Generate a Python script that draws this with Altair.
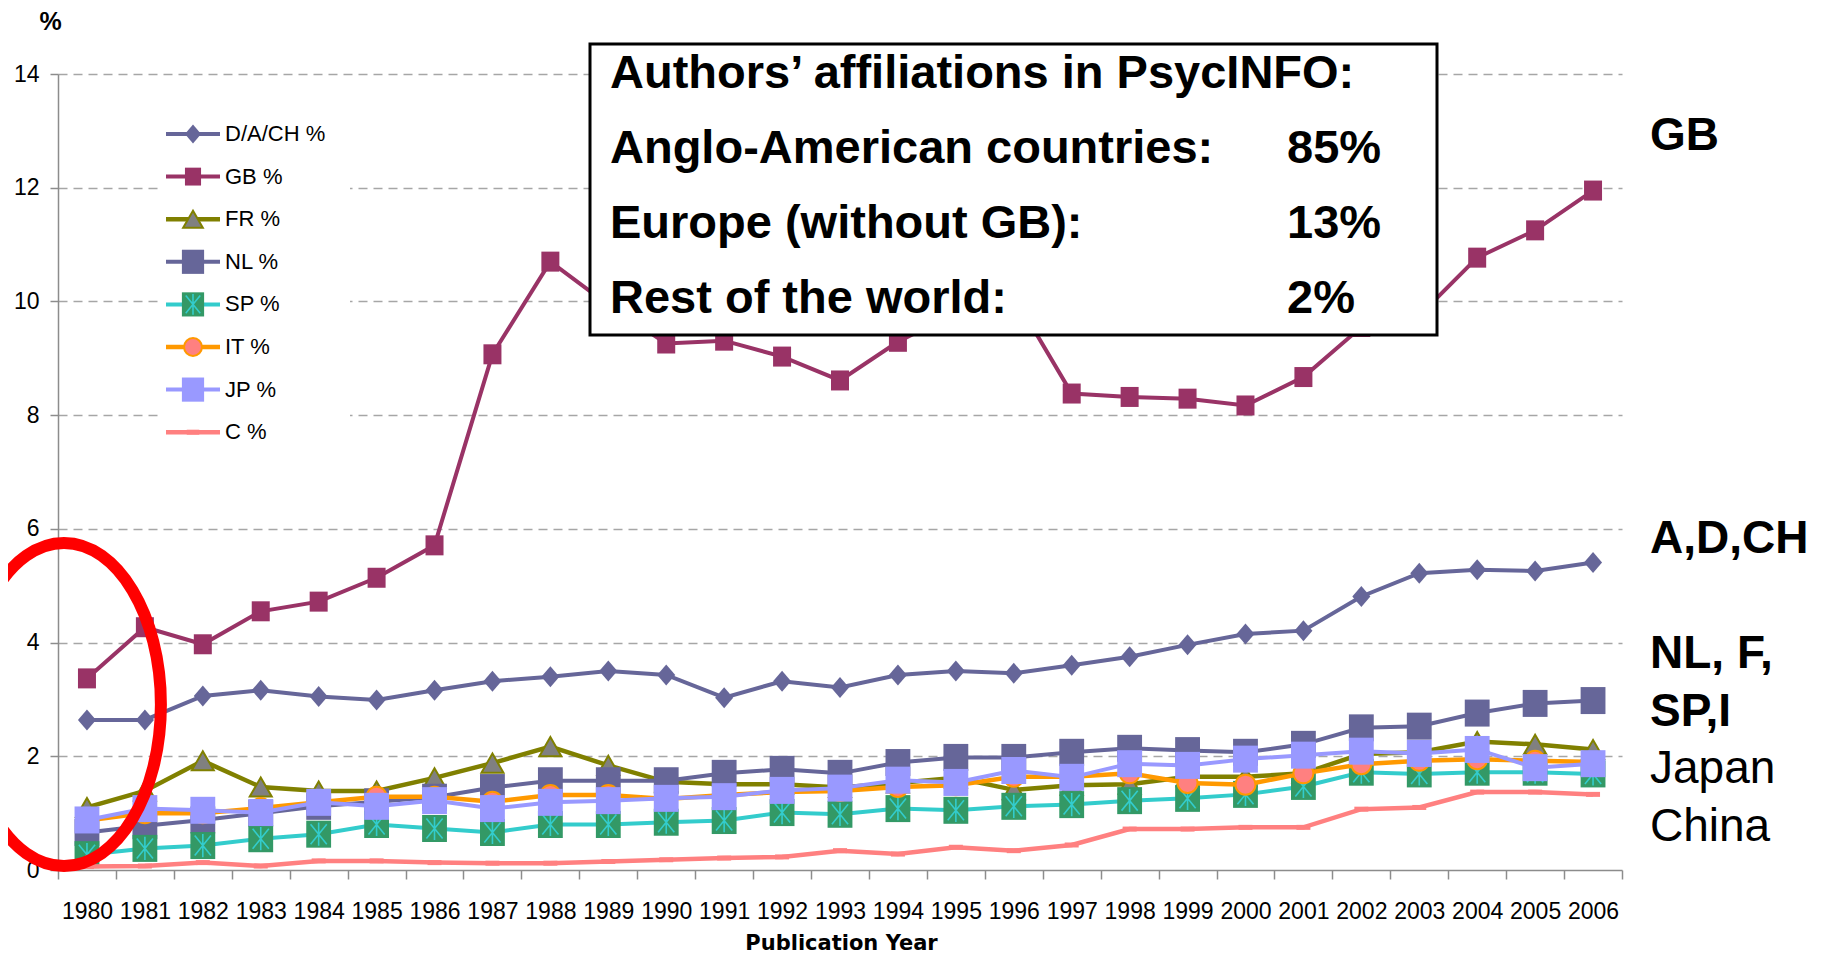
import altair as alt
import pandas as pd

# ---------------- data ----------------
years = list(range(1980, 2007))
series_names = ["D/A/CH %", "GB %", "FR %", "NL %", "SP %", "IT %", "JP %", "C %"]

dach = [2.64, 2.64, 3.06, 3.16, 3.05, 2.99, 3.16, 3.32, 3.40, 3.50, 3.43, 3.03, 3.32, 3.21,
        3.43, 3.50, 3.46, 3.60, 3.75, 3.96, 4.15, 4.21, 4.81, 5.22, 5.28, 5.26, 5.41]
gb = [3.37, 4.27, 3.97, 4.55, 4.72, 5.14, 5.71, 9.07, 10.70, 9.94, 9.26, 9.31, 9.03, 8.61,
      9.29, 9.80, 10.10, 8.38, 8.32, 8.29, 8.17, 8.67, 9.55, 9.75, 10.77, 11.25, 11.95]
fr = [1.10, 1.39, 1.92, 1.46, 1.39, 1.39, 1.62, 1.88, 2.17, 1.84, 1.55, 1.51, 1.51, 1.45,
      1.53, 1.62, 1.41, 1.49, 1.51, 1.64, 1.64, 1.70, 2.04, 2.07, 2.26, 2.21, 2.12]
nl = [0.66, 0.78, 0.88, 1.00, 1.12, 1.20, 1.28, 1.45, 1.57, 1.57, 1.57, 1.70, 1.77, 1.70,
      1.89, 1.98, 1.98, 2.07, 2.14, 2.10, 2.07, 2.21, 2.50, 2.53, 2.76, 2.93, 2.98]
sp = [0.27, 0.38, 0.43, 0.55, 0.63, 0.80, 0.73, 0.66, 0.80, 0.80, 0.84, 0.87, 1.01, 0.98,
      1.08, 1.05, 1.12, 1.15, 1.22, 1.26, 1.33, 1.47, 1.72, 1.69, 1.72, 1.72, 1.69]
it = [0.87, 1.00, 1.00, 1.09, 1.19, 1.29, 1.29, 1.20, 1.32, 1.32, 1.25, 1.32, 1.37, 1.39,
      1.46, 1.49, 1.64, 1.64, 1.70, 1.53, 1.50, 1.70, 1.86, 1.92, 1.95, 1.92, 1.90]
jp = [0.88, 1.08, 1.05, 1.01, 1.19, 1.12, 1.22, 1.08, 1.19, 1.22, 1.26, 1.29, 1.40, 1.44,
      1.58, 1.54, 1.75, 1.63, 1.87, 1.84, 1.95, 2.02, 2.09, 2.05, 2.12, 1.80, 1.87]
cn = [0.06, 0.07, 0.13, 0.07, 0.16, 0.16, 0.13, 0.12, 0.12, 0.15, 0.18, 0.21, 0.23, 0.34,
      0.28, 0.40, 0.34, 0.44, 0.72, 0.72, 0.75, 0.75, 1.07, 1.10, 1.37, 1.37, 1.33]
series_values = [dach, gb, fr, nl, sp, it, jp, cn]

box_title = "Authors\u2019 affiliations in PsycINFO:"
box_rows = ["Anglo-American countries:", "Europe (without GB):", "Rest of the world:"]
box_pcts = ["85%", "13%", "2%"]
side_labels = ["GB", "A,D,CH", "NL, F,", "SP,I", "Japan", "China"]
side_bold = [True, True, True, True, False, False]

rows = []
for name, vals in zip(series_names, series_values):
    for yr, v in zip(years, vals):
        rows.append({"year": str(yr), "series": name, "value": v})
df = pd.DataFrame(rows)

# ---------------- styles ----------------
DIAMOND = "M0,-1L0.86,0L0,1L-0.86,0Z"
RECT = "M-0.92,-1L0.92,-1L0.92,1L-0.92,1Z"
RECT_GB = "M-0.9,-1L0.9,-1L0.9,1L-0.9,1Z"
ASTER = "M-0.6,-0.74L0.6,0.74M0.6,-0.74L-0.6,0.74M0,-0.86L0,0.86"
DASH = "M-1,0L1,0"
ELLIPSE = "M-0.6,0A0.6,1 0 1,0 0.6,0A0.6,1 0 1,0 -0.6,0Z"

styles = {
    "D/A/CH %": dict(line="#666699", lw=4, markers=[dict(shape=DIAMOND, size=441, fill="#666699", stroke="#666699", sw=0)]),
    "GB %": dict(line="#993366", lw=4, markers=[dict(shape=RECT_GB, size=400, fill="#993366", stroke="#993366", sw=0)]),
    "FR %": dict(line="#808000", lw=4.5, markers=[dict(shape="triangle-up", size=484, fill="#808080", stroke="#808000", sw=2)]),
    "NL %": dict(line="#666699", lw=4, markers=[dict(shape=RECT, size=729, fill="#666699", stroke="#666699", sw=0)]),
    "SP %": dict(line="#33cccc", lw=4, markers=[dict(shape=RECT, size=729, fill="#339966", stroke="#339966", sw=0),
                                              dict(shape=ASTER, size=729, fill="none", stroke="#33cccc", sw=1.6)]),
    "IT %": dict(line="#ff9900", lw=4.5, markers=[dict(shape="circle", size=400, fill="#ff8080", stroke="#ff9900", sw=2)]),
    "JP %": dict(line="#9999ff", lw=4, markers=[dict(shape=RECT, size=729, fill="#9999ff", stroke="#9999ff", sw=0)]),
    "C %": dict(line="#ff8080", lw=4.5, markers=[dict(shape=DASH, size=196, fill="none", stroke="#ff8080", sw=5)]),
}

W, H = 1564, 796
AX = "#8c8c8c"
TICK_FONT = "Liberation Sans"

X = alt.X(
    "year:O",
    bandPosition=0.5,
    scale=alt.Scale(type="band", paddingInner=0, paddingOuter=0),
    axis=alt.Axis(
        title="Publication Year", titleX=783, titleY=79, titleAlign="center",
        titleBaseline="alphabetic", titleFont="DejaVu Sans", titleFontSize=21,
        titleFontWeight="bold", titleColor="black",
        tickBand="extent", labelAngle=0, labelOverlap=False,
        labelFont=TICK_FONT, labelFontSize=23, labelColor="black", labelPadding=21,
        tickSize=9, tickWidth=1.5, tickColor=AX, domainColor=AX, domainWidth=1.5,
        grid=False,
    ),
)
Y = alt.Y(
    "value:Q",
    scale=alt.Scale(domain=[0, 14], nice=False),
    axis=alt.Axis(
        values=list(range(0, 15, 2)), title="%", titleAngle=0, titleX=-8, titleY=-45,
        titleAlign="center", titleBaseline="alphabetic", titleFont="Liberation Sans",
        titleFontSize=25, titleFontWeight="bold", titleColor="black",
        labelFont=TICK_FONT, labelFontSize=23, labelColor="black", labelPadding=11,
        tickSize=8, tickWidth=1.5, tickColor=AX, domainColor=AX, domainWidth=1.5,
        grid=True, gridDash=[9, 6], gridColor="#a6a6a6", gridWidth=1.5,
        gridOpacity=alt.condition("datum.value == 0", alt.value(0), alt.value(1)),
    ),
)

one = alt.Data(values=[{}])
layers = []

# legend background (interrupts gridlines)
layers.append(alt.Chart(one).mark_rect(fill="white", stroke="white", strokeWidth=0).encode(
    x=alt.value(100), x2=alt.value(292), y=alt.value(36), y2=alt.value(381)))

# legend entries
for i, name in enumerate(series_names):
    st = styles[name]
    ly = 60 + i * 42.6
    layers.append(alt.Chart(one).mark_rule(color=st["line"], strokeWidth=st["lw"]).encode(
        x=alt.value(108), x2=alt.value(162), y=alt.value(ly)))
    for m in st["markers"]:
        layers.append(alt.Chart(one).mark_point(
            shape=m["shape"], size=m["size"] * 0.8, filled=(m["fill"] != "none"),
            fill=m["fill"] if m["fill"] != "none" else "transparent",
            stroke=m["stroke"], strokeWidth=m["sw"], opacity=1).encode(
            x=alt.value(135), y=alt.value(ly)))
    layers.append(alt.Chart(one).mark_text(
        align="left", baseline="middle", font=TICK_FONT, fontSize=22, color="black").encode(
        x=alt.value(167), y=alt.value(ly), text=alt.value(name)))

# data series
for name in series_names:
    st = styles[name]
    base = alt.Chart(df).transform_filter(alt.datum.series == name).encode(x=X, y=Y)
    layers.append(base.mark_line(color=st["line"], strokeWidth=st["lw"]))
    for m in st["markers"]:
        layers.append(base.mark_point(
            shape=m["shape"], size=m["size"], filled=(m["fill"] != "none"),
            fill=m["fill"] if m["fill"] != "none" else "transparent",
            stroke=m["stroke"], strokeWidth=m["sw"], opacity=1))

# info box
layers.append(alt.Chart(one).mark_rect(fill="white", stroke="black", strokeWidth=3).encode(
    x=alt.value(532), x2=alt.value(1379), y=alt.value(-30), y2=alt.value(261)))
BOX_FONT = "Liberation Sans"
for txt, yy in zip([box_title] + box_rows, [14, 89, 164, 239]):
    layers.append(alt.Chart(one).mark_text(
        align="left", baseline="alphabetic", font=BOX_FONT, fontSize=47, fontWeight="bold",
        color="black").encode(x=alt.value(552), y=alt.value(yy), text=alt.value(txt)))
for txt, yy in zip(box_pcts, [89, 164, 239]):
    layers.append(alt.Chart(one).mark_text(
        align="left", baseline="alphabetic", font=BOX_FONT, fontSize=47, fontWeight="bold",
        color="black").encode(x=alt.value(1229), y=alt.value(yy), text=alt.value(txt)))

# right-side labels
for txt, bold, yy in zip(side_labels, side_bold, [76, 479, 594, 652, 709, 767]):
    layers.append(alt.Chart(one).mark_text(
        align="left", baseline="alphabetic", font=BOX_FONT, fontSize=46,
        fontWeight="bold" if bold else "normal", color="black").encode(
        x=alt.value(1592), y=alt.value(yy), text=alt.value(txt)))

# red ellipse highlight
layers.append(alt.Chart(one).mark_point(
    shape=ELLIPSE, size=323 * 323, filled=False, stroke="#ff0000", strokeWidth=12,
    opacity=1).encode(x=alt.value(6), y=alt.value(630.5)))

chart = alt.layer(*layers).properties(
    width=W, height=H,
    autosize=alt.AutoSizeParams(type="none"),
    padding={"left": 50, "top": 66, "right": 199, "bottom": 88},
    background="white",
).configure_view(strokeWidth=0)

chart.save("out.html", embed_options={"renderer": "svg", "actions": False})
